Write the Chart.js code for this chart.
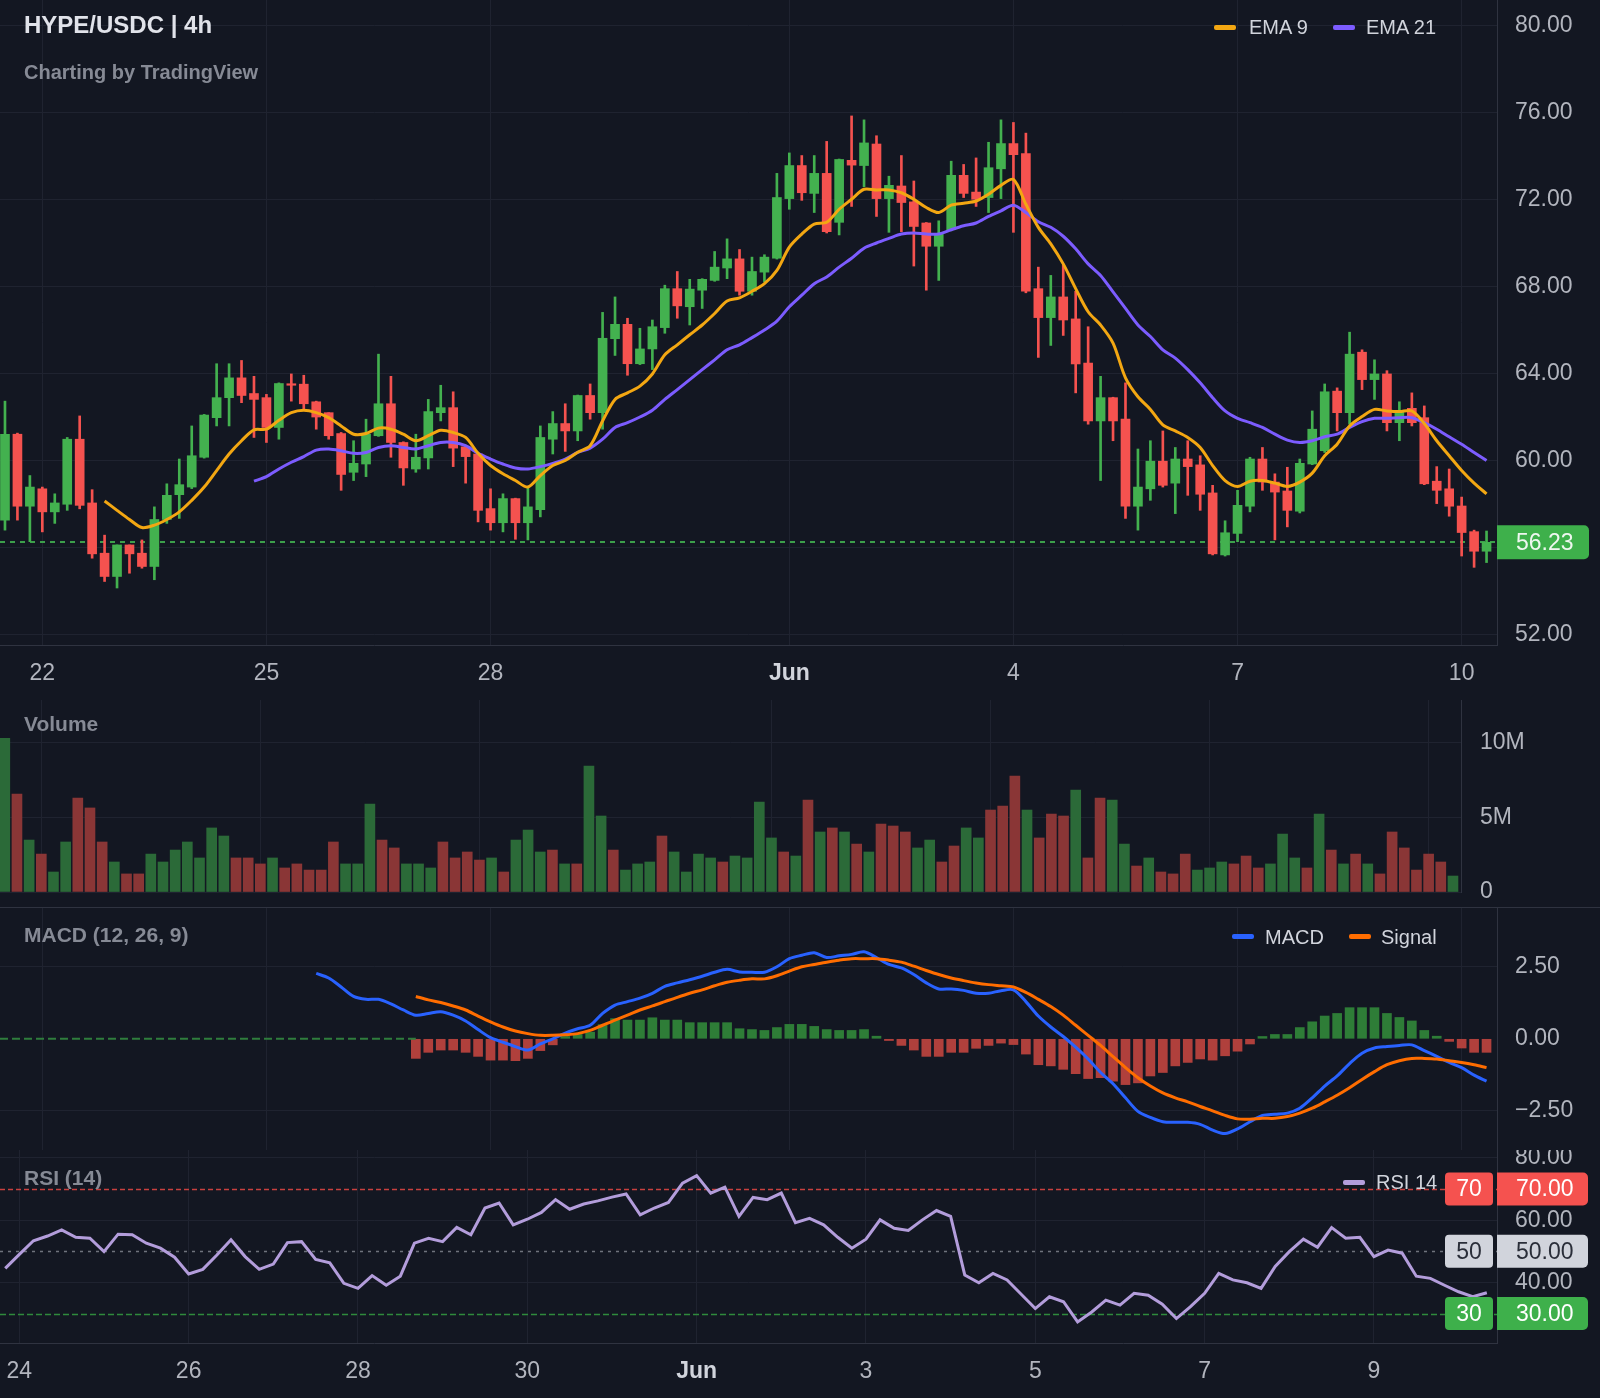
<!DOCTYPE html>
<html>
<head>
<meta charset="utf-8">
<title>HYPE/USDC 4h</title>
<script src="https://cdn.jsdelivr.net/npm/chart.js@4.4.1/dist/chart.umd.min.js"></script>
<style>
  html, body { margin: 0; padding: 0; background: #131722; }
  body { width: 1600px; height: 1398px; position: relative; overflow: hidden;
         font-family: "Liberation Sans", Arial, sans-serif; }
  canvas { position: absolute; left: 0; }
  .lbl { position: absolute; white-space: nowrap; height: 30px; line-height: 30px; z-index: 5; }
  .title { font-size: 24px; font-weight: bold; color: #e1e3ea; }
  .pane { font-size: 21px; font-weight: bold; color: #868a95; }
  .legend { font-size: 20px; color: #d1d4dc; }
  .swatch { position: absolute; height: 5px; width: 22px; border-radius: 2px; z-index: 5; }
</style>
</head>
<body>
<canvas id="priceChart" width="1600" height="700" style="top:0px"></canvas>
<canvas id="volumeChart" width="1600" height="208" style="top:700px"></canvas>
<canvas id="macdChart" width="1600" height="242" style="top:908px"></canvas>
<canvas id="rsiChart" width="1600" height="248" style="top:1150px"></canvas>

<div class="lbl title" style="left:24px; top:10px;">HYPE/USDC | 4h</div>
<div class="lbl pane" style="left:24px; top:57px; font-size:20px;">Charting by TradingView</div>
<div class="swatch" style="left:1214px; top:25px; background:#f3a712;"></div>
<div class="lbl legend" style="left:1249px; top:12px;">EMA 9</div>
<div class="swatch" style="left:1333px; top:25px; background:#7c5cff;"></div>
<div class="lbl legend" style="left:1366px; top:12px;">EMA 21</div>

<div class="lbl pane" style="left:24px; top:709px;">Volume</div>

<div class="lbl pane" style="left:24px; top:920px;">MACD (12, 26, 9)</div>
<div class="swatch" style="left:1232px; top:934px; background:#2962ff;"></div>
<div class="lbl legend" style="left:1265px; top:922px;">MACD</div>
<div class="swatch" style="left:1349px; top:934px; background:#ff6d00;"></div>
<div class="lbl legend" style="left:1381px; top:922px;">Signal</div>

<div class="lbl pane" style="left:24px; top:1163px;">RSI (14)</div>
<div class="swatch" style="left:1343px; top:1180px; background:#b39ddb;"></div>
<div class="lbl legend" style="left:1376px; top:1167px;">RSI 14</div>

<script>
// ---- données (bougies 4h, index 0 = 21 mai 12:00) ----
const opens = [57.25, 61.20, 57.89, 58.69, 57.63, 57.98, 60.97, 58.04, 55.73, 54.66,
  56.11, 55.73, 55.12, 57.28, 58.42, 58.77, 60.14, 61.96, 62.88, 63.79,
  63.07, 62.88, 61.51, 63.52, 63.50, 62.69, 62.19, 61.23, 59.45, 59.83,
  61.13, 62.60, 60.82, 59.60, 60.11, 62.19, 62.42, 60.62, 60.29, 57.78,
  57.13, 58.24, 57.13, 57.73, 60.97, 61.69, 61.35, 62.98, 62.19, 65.59,
  66.25, 64.44, 65.12, 66.10, 67.89, 67.06, 67.82, 68.27, 68.84, 69.26,
  67.77, 68.65, 69.29, 72.03, 73.55, 72.27, 73.19, 70.94, 73.79, 73.55,
  74.54, 72.03, 72.61, 71.88, 70.91, 69.84, 70.60, 73.10, 72.33, 72.08,
  73.40, 74.56, 74.10, 67.89, 66.56, 67.51, 66.50, 64.47, 61.81, 62.88,
  61.89, 57.89, 58.69, 59.96, 58.95, 60.06, 59.79, 58.50, 55.65, 56.64,
  57.89, 60.06, 59.00, 58.59, 57.66, 59.83, 60.44, 63.18, 62.19, 64.97,
  63.71, 63.97, 61.73, 62.39, 61.96, 59.04, 58.69, 57.90, 56.72, 55.82];
const highs = [62.72, 61.25, 59.30, 58.77, 58.46, 61.05, 62.04, 58.65, 56.56, 56.11,
  56.11, 56.34, 57.86, 58.92, 60.06, 61.58, 62.11, 64.44, 64.44, 64.59,
  63.86, 63.03, 63.56, 63.97, 63.91, 62.72, 62.19, 61.28, 60.90, 61.89,
  64.88, 63.86, 60.85, 61.20, 62.80, 63.45, 63.15, 60.65, 60.32, 58.69,
  58.46, 58.26, 58.77, 61.58, 62.24, 62.60, 63.00, 63.51, 66.80, 67.51,
  66.53, 66.07, 66.45, 68.05, 68.68, 68.32, 68.35, 69.60, 70.18, 69.69,
  69.34, 69.45, 73.19, 74.13, 74.01, 74.01, 74.66, 73.85, 75.83, 75.65,
  74.92, 73.06, 74.01, 72.84, 70.93, 71.01, 73.75, 73.60, 73.90, 74.62,
  75.65, 75.53, 75.04, 68.88, 68.50, 68.96, 67.77, 66.14, 63.86, 62.90,
  63.56, 60.52, 60.90, 61.35, 60.59, 60.90, 60.21, 58.85, 57.22, 58.62,
  60.14, 60.59, 59.38, 59.68, 60.06, 62.27, 63.51, 63.33, 65.89, 65.08,
  64.62, 64.12, 62.69, 63.10, 62.50, 59.71, 59.60, 58.31, 56.79, 56.75];
const lows = [56.79, 57.25, 56.26, 56.71, 57.10, 57.70, 57.77, 55.50, 54.43, 54.13,
  54.81, 55.04, 54.51, 57.10, 57.33, 58.70, 60.10, 61.58, 61.58, 62.65,
  61.05, 60.82, 60.97, 62.72, 62.34, 61.43, 60.97, 58.62, 59.07, 59.25,
  61.10, 60.14, 58.85, 59.45, 59.60, 61.81, 59.71, 58.95, 57.17, 56.79,
  56.71, 56.37, 56.34, 57.40, 60.29, 60.41, 60.90, 61.89, 61.43, 64.82,
  63.91, 64.40, 64.17, 65.84, 66.53, 66.22, 66.98, 68.23, 68.35, 67.59,
  67.59, 68.20, 69.25, 71.54, 71.95, 71.39, 70.45, 70.36, 71.67, 72.58,
  71.21, 70.48, 70.51, 68.93, 67.82, 68.27, 70.55, 72.08, 71.67, 71.39,
  72.03, 70.48, 67.70, 64.73, 65.28, 65.74, 63.10, 61.66, 59.07, 60.90,
  57.33, 56.79, 58.16, 58.77, 57.55, 58.39, 57.70, 55.65, 55.60, 56.26,
  57.63, 58.62, 56.34, 56.94, 57.58, 59.80, 60.36, 61.35, 61.66, 63.25,
  62.80, 61.35, 60.90, 61.58, 58.88, 58.01, 57.43, 55.60, 55.08, 55.30];
const closes = [61.20, 57.89, 58.77, 57.63, 58.04, 60.97, 57.93, 55.70, 54.66, 56.11,
  55.70, 55.12, 57.28, 58.39, 58.88, 60.21, 62.08, 62.88, 63.79, 62.98,
  62.80, 61.51, 63.53, 63.45, 62.60, 61.99, 61.13, 59.35, 59.86, 61.20,
  62.60, 60.82, 59.65, 60.14, 62.24, 62.42, 60.56, 60.17, 57.70, 57.13,
  58.24, 57.13, 57.86, 61.05, 61.69, 61.35, 62.98, 62.19, 65.61, 66.25,
  64.44, 65.12, 66.14, 67.89, 67.10, 67.87, 68.32, 68.88, 69.26, 67.77,
  68.68, 69.34, 72.08, 73.55, 72.30, 73.19, 70.51, 73.83, 73.57, 74.59,
  72.03, 72.64, 71.85, 70.75, 69.84, 70.40, 73.10, 72.27, 72.00, 73.45,
  74.56, 74.05, 67.77, 66.56, 67.51, 66.45, 64.43, 61.81, 62.88, 61.81,
  57.89, 58.77, 59.96, 58.85, 60.06, 59.71, 58.44, 55.70, 56.67, 57.93,
  60.06, 59.00, 58.54, 57.70, 59.86, 61.43, 63.15, 62.19, 64.88, 63.71,
  63.97, 61.73, 62.27, 61.73, 58.92, 58.62, 57.89, 56.68, 55.82, 56.23];

// volume en millions
const volumes = [10.29, 6.56, 3.48, 2.54, 1.34, 3.35, 6.29, 5.63, 3.35, 2.01,
  1.21, 1.21, 2.54, 2.01, 2.81, 3.35, 2.28, 4.29, 3.75, 2.28,
  2.28, 1.88, 2.28, 1.61, 1.88, 1.47, 1.47, 3.35, 1.88, 1.88,
  5.89, 3.48, 2.95, 1.88, 1.88, 1.61, 3.35, 2.28, 2.68, 2.14,
  2.28, 1.34, 3.48, 4.15, 2.68, 2.81, 1.88, 1.88, 8.44, 5.09,
  2.81, 1.47, 1.88, 2.01, 3.75, 2.68, 1.34, 2.54, 2.28, 2.01,
  2.41, 2.28, 6.03, 3.62, 2.68, 2.41, 6.16, 4.02, 4.29, 4.02,
  3.21, 2.68, 4.55, 4.42, 4.02, 2.95, 3.48, 2.01, 3.08, 4.29,
  3.62, 5.49, 5.76, 7.77, 5.49, 3.62, 5.22, 5.09, 6.83, 2.28,
  6.29, 6.16, 3.21, 1.74, 2.28, 1.34, 1.21, 2.54, 1.47, 1.61,
  2.01, 1.88, 2.41, 1.61, 1.88, 3.88, 2.28, 1.61, 5.22, 2.81,
  1.88, 2.54, 1.88, 1.21, 4.02, 2.95, 1.47, 2.54, 2.01, 1.07];

const ema9Start = 8;
const ema9 = [58.13, 57.70, 57.28, 56.91, 57.02, 57.28, 57.63, 58.16, 58.77, 59.53,
  60.29, 60.90, 61.40, 61.43, 61.84, 62.19, 62.30, 62.19, 61.96, 61.58,
  61.20, 61.23, 61.48, 61.43, 61.20, 60.90, 61.13, 61.38, 61.28, 61.05,
  60.32, 59.76, 59.38, 59.07, 58.77, 59.30, 59.76, 59.99, 60.37, 60.67,
  61.81, 62.80, 63.10, 63.41, 63.97, 64.85, 65.31, 65.77, 66.22, 66.75,
  67.32, 67.47, 67.77, 68.12, 68.73, 69.80, 70.40, 70.86, 70.94, 71.54,
  72.00, 72.46, 72.43, 72.43, 72.30, 72.00, 71.62, 71.39, 71.73, 71.82,
  71.92, 72.23, 72.64, 72.91, 71.77, 70.71, 69.95, 69.03, 67.89, 66.83,
  66.22, 65.39, 63.79, 62.92, 62.34, 61.63, 61.35, 61.05, 60.59, 59.76,
  59.07, 58.80, 59.04, 59.07, 58.95, 58.80, 59.00, 59.41, 60.21, 60.74,
  61.58, 62.01, 62.34, 62.27, 62.24, 62.27, 61.69, 60.90, 60.21, 59.53,
  58.95, 58.46];

const ema21Start = 20;
const ema21 = [59.04, 59.25, 59.60, 59.91, 60.17, 60.47, 60.52, 60.44, 60.32, 60.36,
  60.59, 60.67, 60.59, 60.52, 60.67, 60.82, 60.82, 60.67, 60.32, 60.06,
  59.83, 59.65, 59.60, 59.71, 59.86, 60.06, 60.36, 60.56, 60.97, 61.51,
  61.73, 61.99, 62.30, 62.80, 63.25, 63.71, 64.17, 64.62, 65.08, 65.31,
  65.64, 65.99, 66.40, 67.06, 67.59, 68.12, 68.43, 68.88, 69.29, 69.75,
  69.99, 70.20, 70.40, 70.45, 70.40, 70.40, 70.60, 70.78, 70.91, 71.21,
  71.47, 71.73, 71.39, 70.97, 70.71, 70.30, 69.72, 69.03, 68.50, 67.74,
  66.98, 66.22, 65.69, 65.08, 64.70, 64.17, 63.56, 62.88, 62.27, 61.93,
  61.73, 61.51, 61.20, 60.93, 60.82, 60.90, 61.08, 61.20, 61.51, 61.78,
  61.93, 61.93, 61.96, 61.96, 61.73, 61.43, 61.08, 60.74, 60.36, 59.99];

const macdStart = 25;
const macdLine = [2.27, 2.11, 1.80, 1.47, 1.37,
  1.37, 1.21, 1.00, 0.82, 0.88, 0.94, 0.82, 0.62, 0.32, 0.04,
  -0.12, -0.27, -0.39, -0.18, 0.00, 0.20, 0.35, 0.47, 0.88, 1.17,
  1.29, 1.41, 1.58, 1.82, 1.94, 2.05, 2.17, 2.31, 2.41, 2.32,
  2.31, 2.31, 2.50, 2.78, 2.90, 2.99, 2.82, 2.88, 2.93, 3.02,
  2.82, 2.58, 2.46, 2.23, 1.94, 1.73, 1.73, 1.68, 1.58, 1.58,
  1.67, 1.70, 1.29, 0.79, 0.41, 0.08, -0.29, -0.70, -1.17, -1.56,
  -2.05, -2.52, -2.73, -2.88, -2.90, -2.90, -2.97, -3.17, -3.29, -3.13,
  -2.88, -2.66, -2.62, -2.58, -2.41, -2.05, -1.64, -1.29, -0.86, -0.50,
  -0.32, -0.27, -0.23, -0.21, -0.41, -0.61, -0.82, -1.00, -1.26, -1.47];

const signalStart = 33;
const signalLine = [1.47, 1.35, 1.26, 1.14, 1.00, 0.79, 0.59,
  0.41, 0.27, 0.18, 0.12, 0.12, 0.14, 0.18, 0.29, 0.47, 0.65,
  0.82, 1.00, 1.14, 1.29, 1.44, 1.58, 1.70, 1.84, 1.96, 2.03,
  2.08, 2.08, 2.19, 2.35, 2.50, 2.58, 2.66, 2.73, 2.78, 2.78,
  2.78, 2.73, 2.66, 2.52, 2.37, 2.23, 2.11, 2.02, 1.94, 1.88,
  1.84, 1.80, 1.61, 1.37, 1.12, 0.82, 0.47, 0.12, -0.23, -0.62,
  -1.00, -1.35, -1.64, -1.88, -2.05, -2.19, -2.35, -2.50, -2.66, -2.78,
  -2.79, -2.76, -2.76, -2.70, -2.58, -2.41, -2.19, -1.96, -1.70, -1.41,
  -1.14, -0.90, -0.76, -0.68, -0.68, -0.70, -0.76, -0.82, -0.90, -1.00];

const histStart = 33;
const macdHist = [-0.68, -0.47, -0.39, -0.39, -0.47, -0.61, -0.74,
  -0.74, -0.76, -0.68, -0.41, -0.21, 0.08, 0.15, 0.23, 0.49, 0.70,
  0.65, 0.65, 0.73, 0.65, 0.65, 0.56, 0.56, 0.56, 0.56, 0.35,
  0.32, 0.29, 0.39, 0.50, 0.50, 0.43, 0.32, 0.29, 0.29, 0.32,
  0.09, -0.06, -0.23, -0.39, -0.61, -0.61, -0.47, -0.47, -0.33, -0.23,
  -0.15, -0.20, -0.53, -0.90, -0.94, -1.06, -1.21, -1.38, -1.35, -1.47,
  -1.59, -1.53, -1.29, -1.17, -0.94, -0.82, -0.70, -0.74, -0.59, -0.43,
  -0.18, 0.08, 0.15, 0.15, 0.39, 0.59, 0.79, 0.88, 1.08, 1.08,
  1.08, 0.88, 0.74, 0.62, 0.29, 0.09, -0.09, -0.32, -0.47, -0.47];

const rsiStart = 14;
const rsi14 = [44.5, 49.0, 53.4, 54.9, 56.9, 54.5,
  54.2, 49.9, 55.5, 55.3, 52.6, 51.0, 48.1, 42.7, 44.2, 48.8,
  53.7, 48.3, 44.2, 45.9, 52.8, 53.1, 47.4, 46.3, 39.7, 38.1,
  42.2, 39.1, 42.0, 52.6, 54.2, 53.1, 57.7, 55.3, 63.9, 65.5,
  58.5, 60.3, 62.5, 66.6, 63.5, 65.2, 66.2, 67.4, 68.4, 61.7,
  63.9, 65.7, 71.9, 74.3, 68.7, 70.6, 61.2, 67.3, 66.6, 68.7,
  59.2, 60.6, 58.5, 54.5, 51.0, 53.9, 60.1, 57.4, 56.7, 60.1,
  63.1, 61.2, 42.4, 39.9, 42.9, 40.8, 36.2, 31.6, 35.4, 33.8,
  27.3, 30.5, 34.3, 32.7, 36.5, 35.9, 33.0, 28.4, 32.2, 36.5,
  42.9, 40.8, 39.9, 38.1, 45.1, 49.9, 53.9, 51.3, 57.6, 54.2,
  54.5, 48.3, 50.4, 49.4, 42.0, 41.3, 39.1, 37.0, 35.4, 36.7];

// étiquettes de l'axe du temps (index de bougie -> texte)
const priceTickIdx = [3, 21, 39, 63, 81, 99, 117];
const priceTickText = ['22', '25', '28', 'Jun', '4', '7', '10'];
const rsiTickIdx = [15, 27, 39, 51, 63, 75, 87, 99, 111];
const rsiTickText = ['24', '26', '28', '30', 'Jun', '3', '5', '7', '9'];

const priceLevels = [52, 56, 60, 64, 68, 72, 76, 80];
const volumeLevels = [0, 5, 10];
const macdLevels = [-2.5, 0, 2.5];
const rsiAxisLevels = [40, 60, 80];
const rsiBands = [70, 50, 30];

// ---- styles ----
const FONT = '"Liberation Sans", Arial, sans-serif';
const UP = '#43b14f';
const DOWN = '#f5524f';
const GRID = '#1f2330';
const BORDER = '#2f3340';
const TICK_COLOR = '#b2b5be';
const TICK_FONT = { family: FONT, size: 23 };

const rsiBandStyle = {
  70: { line: '#c8403f', dash: [5, 3], fill: '#f5524f', text: '#ffffff' },
  50: { line: '#6f737d', dash: [3, 5], fill: '#d1d4dc', text: '#2a2e39' },
  30: { line: '#2f8a3c', dash: [6, 3], fill: '#3eb04b', text: '#ffffff' }
};

Chart.defaults.font.family = FONT;

function series(start, values) {
  return values.map((v, i) => ({ x: start + i, y: v }));
}

function isUp(i) {
  return closes[i] >= opens[i];
}

function timeTickFont(texts) {
  return ctx => ({ family: FONT, size: 23, weight: texts[ctx.index] === 'Jun' ? 'bold' : 'normal' });
}

function xAxis(min, max, tickIdx, texts, height) {
  return {
    type: 'linear', min: min, max: max, offset: false,
    afterBuildTicks: s => { s.ticks = tickIdx.map(v => ({ value: v })); },
    afterFit: s => { s.height = height; s.paddingLeft = 0; s.paddingRight = 0; },
    grid: { color: GRID, drawTicks: false, offset: false },
    border: { display: !!texts, color: BORDER },
    ticks: texts ? {
      display: true, autoSkip: false, maxRotation: 0, padding: 15,
      callback: (v, i) => texts[i],
      font: timeTickFont(texts),
      color: ctx => texts[ctx.index] === 'Jun' ? '#d1d4dc' : TICK_COLOR
    } : { display: false }
  };
}

function yAxis(min, max, levels, width, pad, fmt, gridColor) {
  return {
    type: 'linear', position: 'right', min: min, max: max,
    afterBuildTicks: s => { s.ticks = levels.map(v => ({ value: v })); },
    afterFit: s => { s.width = width; s.paddingTop = 0; s.paddingBottom = 0; },
    grid: { color: gridColor || GRID, drawTicks: false },
    border: { display: true, color: BORDER },
    ticks: { padding: pad, callback: fmt, font: TICK_FONT, color: TICK_COLOR }
  };
}

function baseOptions(scales) {
  return {
    responsive: false,
    maintainAspectRatio: false,
    devicePixelRatio: 1,
    animation: false,
    events: [],
    layout: { padding: 0 },
    plugins: { legend: { display: false }, tooltip: { enabled: false } },
    scales: scales
  };
}

function drawBadge(ctx, x, cy, w, h, fill, text, color, centered, radii) {
  ctx.save();
  ctx.fillStyle = fill;
  ctx.beginPath();
  ctx.roundRect(x, cy - h / 2, w, h, radii);
  ctx.fill();
  ctx.fillStyle = color;
  ctx.font = '23px ' + FONT;
  ctx.textBaseline = 'middle';
  ctx.textAlign = centered ? 'center' : 'left';
  ctx.fillText(text, centered ? x + w / 2 : x + 19, cy + 1);
  ctx.restore();
}

const lastClose = closes[closes.length - 1];

// ---- graphique des prix ----
const priceMarker = {
  id: 'priceMarker',
  beforeDatasetsDraw(chart) {
    const { ctx, chartArea: a, scales: { y } } = chart;
    const py = Math.round(y.getPixelForValue(lastClose));
    ctx.save();
    ctx.strokeStyle = '#3c9f4b';
    ctx.lineWidth = 2;
    ctx.setLineDash([5, 5]);
    ctx.beginPath();
    ctx.moveTo(a.left, py);
    ctx.lineTo(a.right, py);
    ctx.stroke();
    ctx.restore();
  },
  afterDraw(chart) {
    const { ctx, chartArea: a, scales: { y } } = chart;
    drawBadge(ctx, a.right, y.getPixelForValue(lastClose), 92, 34, '#3eb04b',
      lastClose.toFixed(2), '#eef7ef', false, [0, 5, 5, 0]);
  }
};

const candleColors = opens.map((o, i) => isUp(i) ? UP : DOWN);

new Chart(document.getElementById('priceChart'), {
  type: 'bar',
  data: {
    datasets: [
      {
        label: 'EMA 9', type: 'line', data: series(ema9Start, ema9),
        borderColor: '#f3a712', borderWidth: 3, pointRadius: 0, tension: 0.3, order: 0
      },
      {
        label: 'EMA 21', type: 'line', data: series(ema21Start, ema21),
        borderColor: '#7c5cff', borderWidth: 3, pointRadius: 0, tension: 0.3, order: 1
      },
      {
        label: 'Bodies', data: opens.map((o, i) => ({ x: i, y: [o, closes[i]] })),
        backgroundColor: candleColors, barThickness: 9, grouped: false, order: 2
      },
      {
        label: 'Wicks', data: lows.map((l, i) => ({ x: i, y: [l, highs[i]] })),
        backgroundColor: candleColors, barThickness: 2, grouped: false, order: 3
      }
    ]
  },
  options: baseOptions({
    x: xAxis(-0.40, 119.84, priceTickIdx, priceTickText, 55),
    y: yAxis(51.51, 81.16, priceLevels, 103, 18, v => v.toFixed(2))
  }),
  plugins: [priceMarker]
});

// ---- volume ----
const volumeSeparator = {
  id: 'volumeSeparator',
  afterDraw(chart) {
    const ctx = chart.ctx;
    ctx.save();
    ctx.strokeStyle = BORDER;
    ctx.lineWidth = 1;
    ctx.beginPath();
    ctx.moveTo(0, chart.height - 0.5);
    ctx.lineTo(chart.width, chart.height - 0.5);
    ctx.stroke();
    ctx.restore();
  }
};

new Chart(document.getElementById('volumeChart'), {
  type: 'bar',
  data: {
    datasets: [{
      label: 'Volume', data: series(0, volumes),
      backgroundColor: volumes.map((v, i) => isUp(i) ? '#2b6a38' : '#8a3636'),
      barThickness: 10, grouped: false
    }]
  },
  options: baseOptions({
    x: xAxis(-0.394, 119.66, priceTickIdx, null, 16),
    y: yAxis(0, 12.86, volumeLevels, 139, 19, v => v === 0 ? '0' : v + 'M')
  }),
  plugins: [volumeSeparator]
});

// ---- MACD ----
new Chart(document.getElementById('macdChart'), {
  type: 'bar',
  data: {
    datasets: [
      {
        label: 'Signal', type: 'line', data: series(signalStart, signalLine),
        borderColor: '#ff6d00', borderWidth: 3, pointRadius: 0, tension: 0.3, order: 0
      },
      {
        label: 'MACD', type: 'line', data: series(macdStart, macdLine),
        borderColor: '#2962ff', borderWidth: 3, pointRadius: 0, tension: 0.3, order: 1
      },
      {
        label: 'Zero', type: 'line', data: [{ x: -0.40, y: 0 }, { x: histStart, y: 0 }],
        borderColor: '#2f7d3d', borderWidth: 2, borderDash: [8, 4], pointRadius: 0, order: 2
      },
      {
        label: 'Histogram', data: series(histStart, macdHist),
        backgroundColor: macdHist.map(v => v >= 0 ? '#2e7d37' : '#b0403c'),
        barThickness: 9, grouped: false, order: 3
      }
    ]
  },
  options: baseOptions({
    x: xAxis(-0.40, 119.84, priceTickIdx, null, 0),
    y: yAxis(-3.86, 4.54, macdLevels, 103, 18,
      v => (v < 0 ? '\u2212' : '') + Math.abs(v).toFixed(2),
      ctx => ctx.tick && ctx.tick.value === 0 ? 'rgba(0,0,0,0)' : GRID)
  })
});

// ---- RSI ----
const rsiBandsPlugin = {
  id: 'rsiBands',
  beforeDatasetsDraw(chart) {
    const { ctx, chartArea: a, scales: { y } } = chart;
    rsiBands.forEach(level => {
      const st = rsiBandStyle[level];
      const py = Math.round(y.getPixelForValue(level)) + 0.5;
      ctx.save();
      ctx.strokeStyle = st.line;
      ctx.lineWidth = 1.5;
      ctx.setLineDash(st.dash);
      ctx.beginPath();
      ctx.moveTo(a.left, py);
      ctx.lineTo(a.right, py);
      ctx.stroke();
      ctx.restore();
    });
  },
  afterDraw(chart) {
    const { ctx, chartArea: a, scales: { y } } = chart;
    rsiBands.forEach(level => {
      const st = rsiBandStyle[level];
      const py = y.getPixelForValue(level);
      drawBadge(ctx, a.right - 52, py, 48, 33, st.fill, String(level), st.text, true, 4);
      drawBadge(ctx, a.right, py, 91, 33, st.fill, level.toFixed(2), st.text, false, [0, 5, 5, 0]);
    });
  }
};

new Chart(document.getElementById('rsiChart'), {
  type: 'line',
  data: {
    datasets: [{
      label: 'RSI 14', data: series(rsiStart, rsi14),
      borderColor: '#b39ddb', borderWidth: 3, pointRadius: 0, tension: 0
    }]
  },
  options: baseOptions({
    x: xAxis(13.63, 119.72, rsiTickIdx, rsiTickText, 55),
    y: yAxis(20.54, 82.54, rsiAxisLevels, 103, 18, v => v.toFixed(2))
  }),
  plugins: [rsiBandsPlugin]
});
</script>
</body>
</html>
